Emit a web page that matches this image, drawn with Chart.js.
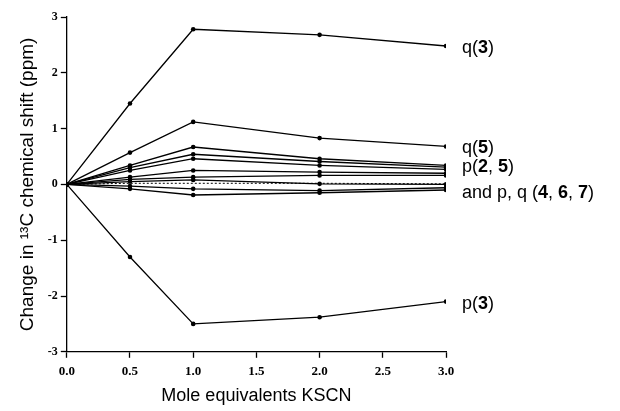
<!DOCTYPE html>
<html>
<head>
<meta charset="utf-8">
<script src="https://cdn.jsdelivr.net/npm/chart.js@4.4.0/dist/chart.umd.min.js"></script>
<style>
  html, body { margin: 0; padding: 0; background: #fff; }
  #wrap { width: 620px; height: 411px; }
</style>
</head>
<body>
<div id="wrap"><canvas id="grafico" width="620" height="411"></canvas></div>
<script>
// equivalentes de KSCN
const equivalentes = [0, 0.5, 1.0, 2.0, 3.0];

// deslocamentos (ppm)
const q3 = [0, 1.45, 2.78, 2.68, 2.48];
const q5 = [0, 0.57, 1.12, 0.83, 0.68];
const linhaA = [0, 0.34, 0.67, 0.46, 0.34];
const linhaB = [0, 0.30, 0.54, 0.41, 0.31];
const linhaC = [0, 0.25, 0.46, 0.34, 0.27];
const linhaD = [0, 0.13, 0.25, 0.22, 0.20];
const linhaE = [0, 0.09, 0.13, 0.16, 0.16];
const linhaF = [0, 0.05, 0.08, 0.01, 0.00];
const linhaG = [0, -0.03, -0.08, -0.11, -0.06];
const linhaH = [0, -0.08, -0.19, -0.15, -0.10];
const pontilhada = [0, 0.02, 0.02, 0.02, 0.01];
const p3 = [0, -1.30, -2.50, -2.38, -2.10];

// rotulos da direita: partes [texto, negrito] e valor y
const rotulos = [
    { partes: [['q(', false], ['3', true], [')', false]], y: 2.45 },
    { partes: [['q(', false], ['5', true], [')', false]], y: 0.66 },
    { partes: [['p(', false], ['2', true], [', ', false], ['5', true], [')', false]], y: 0.32 },
    { partes: [['and p, q (', false], ['4', true], [', ', false], ['6', true], [', ', false], ['7', true], [')', false]], y: -0.16 },
    { partes: [['p(', false], ['3', true], [')', false]], y: -2.15 }
];

const xTicks = [0, 0.5, 1.0, 1.5, 2.0, 2.5, 3.0];
const yTicks = [-3, -2, -1, 0, 1, 2, 3];

function serie(valores, tracejado) {
    return {
        data: equivalentes.map((x, i) => ({ x: x, y: valores[i] })),
        borderColor: '#000',
        backgroundColor: '#000',
        borderWidth: tracejado ? 1 : 1.3,
        borderDash: tracejado ? [2, 2] : [],
        pointRadius: tracejado ? 0 : 2.3,
        pointBackgroundColor: '#000',
        pointBorderWidth: 0,
        tension: 0,
        fill: false
    };
}

const conjuntos = [q3, q5, linhaA, linhaB, linhaC, linhaD, linhaE, linhaF, linhaG, linhaH, p3]
    .map(v => serie(v, false));
conjuntos.push(serie(pontilhada, true));

const fonteRotulo = '"Liberation Sans", Arial, sans-serif';
const fonteTick = '"Liberation Serif", "Times New Roman", serif';

const rotulosDireita = {
    id: 'rotulosDireita',
    afterDraw(chart) {
        const { ctx, scales: { x, y } } = chart;
        ctx.save();
        ctx.fillStyle = '#000';
        ctx.textBaseline = 'middle';
        ctx.textAlign = 'left';
        rotulos.forEach(r => {
            let px = x.getPixelForValue(3) + 16;
            const py = y.getPixelForValue(r.y);
            r.partes.forEach(([txt, negrito]) => {
                ctx.font = (negrito ? 'bold ' : '') + '18px ' + fonteRotulo;
                ctx.fillText(txt, px, py);
                px += ctx.measureText(txt).width;
            });
        });
        ctx.restore();
    }
};

new Chart(document.getElementById('grafico').getContext('2d'), {
    type: 'line',
    data: { datasets: conjuntos },
    options: {
        responsive: false,
        animation: false,
        layout: { padding: { top: 17, right: 174, left: 16, bottom: 4 } },
        plugins: {
            legend: { display: false },
            tooltip: { enabled: false }
        },
        scales: {
            x: {
                type: 'linear',
                min: 0,
                max: 3,
                afterBuildTicks(scale) { scale.ticks = xTicks.map(v => ({ value: v })); },
                border: { color: '#000', width: 1.3 },
                grid: { drawOnChartArea: false, color: '#000', tickLength: 6, tickWidth: 1.3 },
                ticks: {
                    color: '#000',
                    padding: 6,
                    font: { family: fonteTick, size: 13, weight: 'bold' },
                    callback: v => v.toFixed(1)
                },
                title: {
                    display: true,
                    text: 'Mole equivalents KSCN',
                    color: '#000',
                    padding: { top: 0, bottom: 0 },
                    font: { family: fonteRotulo, size: 18 }
                }
            },
            y: {
                min: -3,
                max: 3,
                afterBuildTicks(scale) { scale.ticks = yTicks.map(v => ({ value: v })); },
                border: { color: '#000', width: 1.3 },
                grid: { drawOnChartArea: false, color: '#000', tickLength: 6, tickWidth: 1.3 },
                ticks: {
                    color: '#000',
                    padding: 3,
                    font: { family: fonteTick, size: 12, weight: 'bold' }
                },
                title: {
                    display: true,
                    text: 'Change in \u00B9\u00B3C chemical shift (ppm)',
                    color: '#000',
                    padding: { top: 0, bottom: 6 },
                    font: { family: fonteRotulo, size: 19 }
                }
            }
        }
    },
    plugins: [rotulosDireita]
});
</script>
</body>
</html>
